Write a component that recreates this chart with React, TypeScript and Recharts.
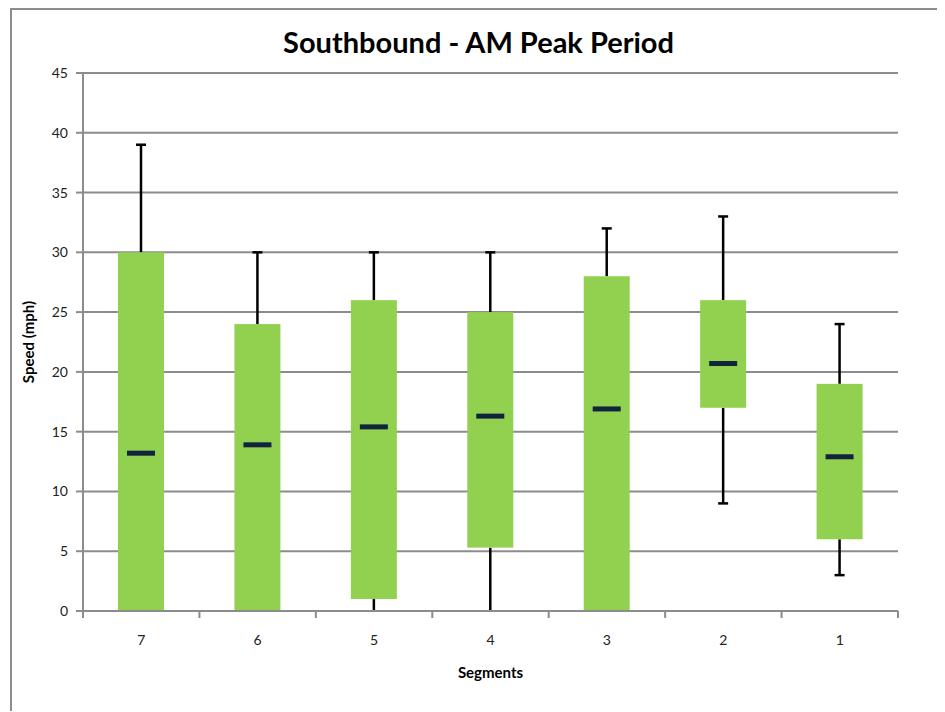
import { ComposedChart, Bar, XAxis, YAxis, CartesianGrid } from "recharts"

// segment order as shown left to right
const segments = ["7", "6", "5", "4", "3", "2", "1"]
const minSpeed = [0, 0, 0, 0, 0, 9, 3]
const q1Speed = [0, 0, 1, 5.3, 0, 17, 6]
const medianSpeed = [13.2, 13.9, 15.4, 16.3, 16.9, 20.7, 12.9]
const q3Speed = [30, 24, 26, 25, 28, 26, 19]
const maxSpeed = [39, 30, 30, 30, 32, 33, 24]
const speedTicks = [0, 5, 10, 15, 20, 25, 30, 35, 40, 45]

const data = segments.map((s, i) => ({
    segment: s,
    min: minSpeed[i],
    q1: q1Speed[i],
    med: medianSpeed[i],
    q3: q3Speed[i],
    max: maxSpeed[i],
}))

const FONT = "Lato, 'Open Sans', sans-serif"
const GRID = "#8c8c8c"
const LABEL_GAP = 24

// draws whiskers, box and median from the range bar the library lays out for [min, max]
function BoxShape(props: any) {
    const { x, y, width, height, payload } = props
    const { min, q1, med, q3, max } = payload
    const top = Math.min(y, y + height)
    const h = Math.abs(height)
    const k = h / (max - min)
    const py = (v: number) => top + (max - v) * k
    const cx = x + width / 2
    return (
        <g>
            <line x1={cx} x2={cx} y1={py(max)} y2={py(q3)} stroke="#000" strokeWidth={2.5} />
            <line x1={cx - 5} x2={cx + 5} y1={py(max)} y2={py(max)} stroke="#000" strokeWidth={2.5} />
            <line x1={cx} x2={cx} y1={py(q1)} y2={py(min)} stroke="#000" strokeWidth={2.5} />
            {min > 0 && (
                <line x1={cx - 5} x2={cx + 5} y1={py(min)} y2={py(min)} stroke="#000" strokeWidth={2.5} />
            )}
            <rect x={x} y={py(q3)} width={width} height={py(q1) - py(q3)} fill="#92d050" />
            <rect x={cx - 14} y={py(med) - 2.5} width={28} height={5} fill="#10243e" />
        </g>
    )
}

// category label plus Excel-style tick marks on the category boundaries
function SegmentTick(props: any) {
    const { x, y, payload, index, visibleTicksCount } = props
    const half = payload?.offset || 58.2
    const axisY = y - LABEL_GAP
    const last = index === visibleTicksCount - 1
    return (
        <g>
            <line x1={x - half} x2={x - half} y1={axisY} y2={axisY + 7} stroke={GRID} strokeWidth={2} />
            {last && <line x1={x + half} x2={x + half} y1={axisY} y2={axisY + 7} stroke={GRID} strokeWidth={2} />}
            <text x={x} y={y} dy="0.71em" textAnchor="middle" fill="#222" fontSize={14} fontFamily={FONT}>
                {payload.value}
            </text>
        </g>
    )
}

export default function App() {
    return (
        <div
            style={{
                position: "relative",
                marginLeft: 2,
                width: 933,
                height: 701,
                borderLeft: `2px solid ${GRID}`,
                borderTop: `2px solid ${GRID}`,
                background: "#fff",
                fontFamily: FONT,
            }}
        >
            <div
                style={{
                    position: "absolute",
                    left: 0,
                    width: 933,
                    top: 14,
                    textAlign: "center",
                    fontWeight: 700,
                    fontSize: 29,
                    color: "#000",
                }}
            >
                Southbound - AM Peak Period
            </div>
            <ComposedChart
                width={933}
                height={701}
                data={data}
                margin={{ top: 63, right: 47, left: 0, bottom: 0 }}
                barSize={46}
            >
                <CartesianGrid vertical={false} stroke={GRID} strokeWidth={2} />
                <XAxis
                    dataKey="segment"
                    height={100}
                    stroke={GRID}
                    strokeWidth={2}
                    tickLine={false}
                    tickSize={0}
                    tickMargin={LABEL_GAP}
                    tick={SegmentTick}
                    label={{
                        content: ({ viewBox }: any) => (
                            <text
                                x={viewBox.x + viewBox.width / 2}
                                y={viewBox.y + 67}
                                textAnchor="middle"
                                fontWeight={700}
                                fontSize={15}
                                fontFamily={FONT}
                                fill="#000"
                            >
                                Segments
                            </text>
                        ),
                    }}
                />
                <YAxis
                    width={71}
                    domain={[0, 45]}
                    ticks={speedTicks}
                    stroke={GRID}
                    strokeWidth={2}
                    tickSize={7}
                    tickMargin={8}
                    tick={{ fill: "#222", fontSize: 14, fontFamily: FONT }}
                    label={{
                        content: ({ viewBox }: any) => {
                            const cy = viewBox.y + viewBox.height / 2
                            return (
                                <text
                                    x={22}
                                    y={cy}
                                    transform={`rotate(-90, 22, ${cy})`}
                                    textAnchor="middle"
                                    fontWeight={700}
                                    fontSize={15}
                                    fontFamily={FONT}
                                    fill="#000"
                                >
                                    Speed (mph)
                                </text>
                            )
                        },
                    }}
                />
                <Bar
                    dataKey={(d: any) => [d.min, d.max]}
                    shape={BoxShape}
                    isAnimationActive={false}
                />
            </ComposedChart>
        </div>
    )
}
